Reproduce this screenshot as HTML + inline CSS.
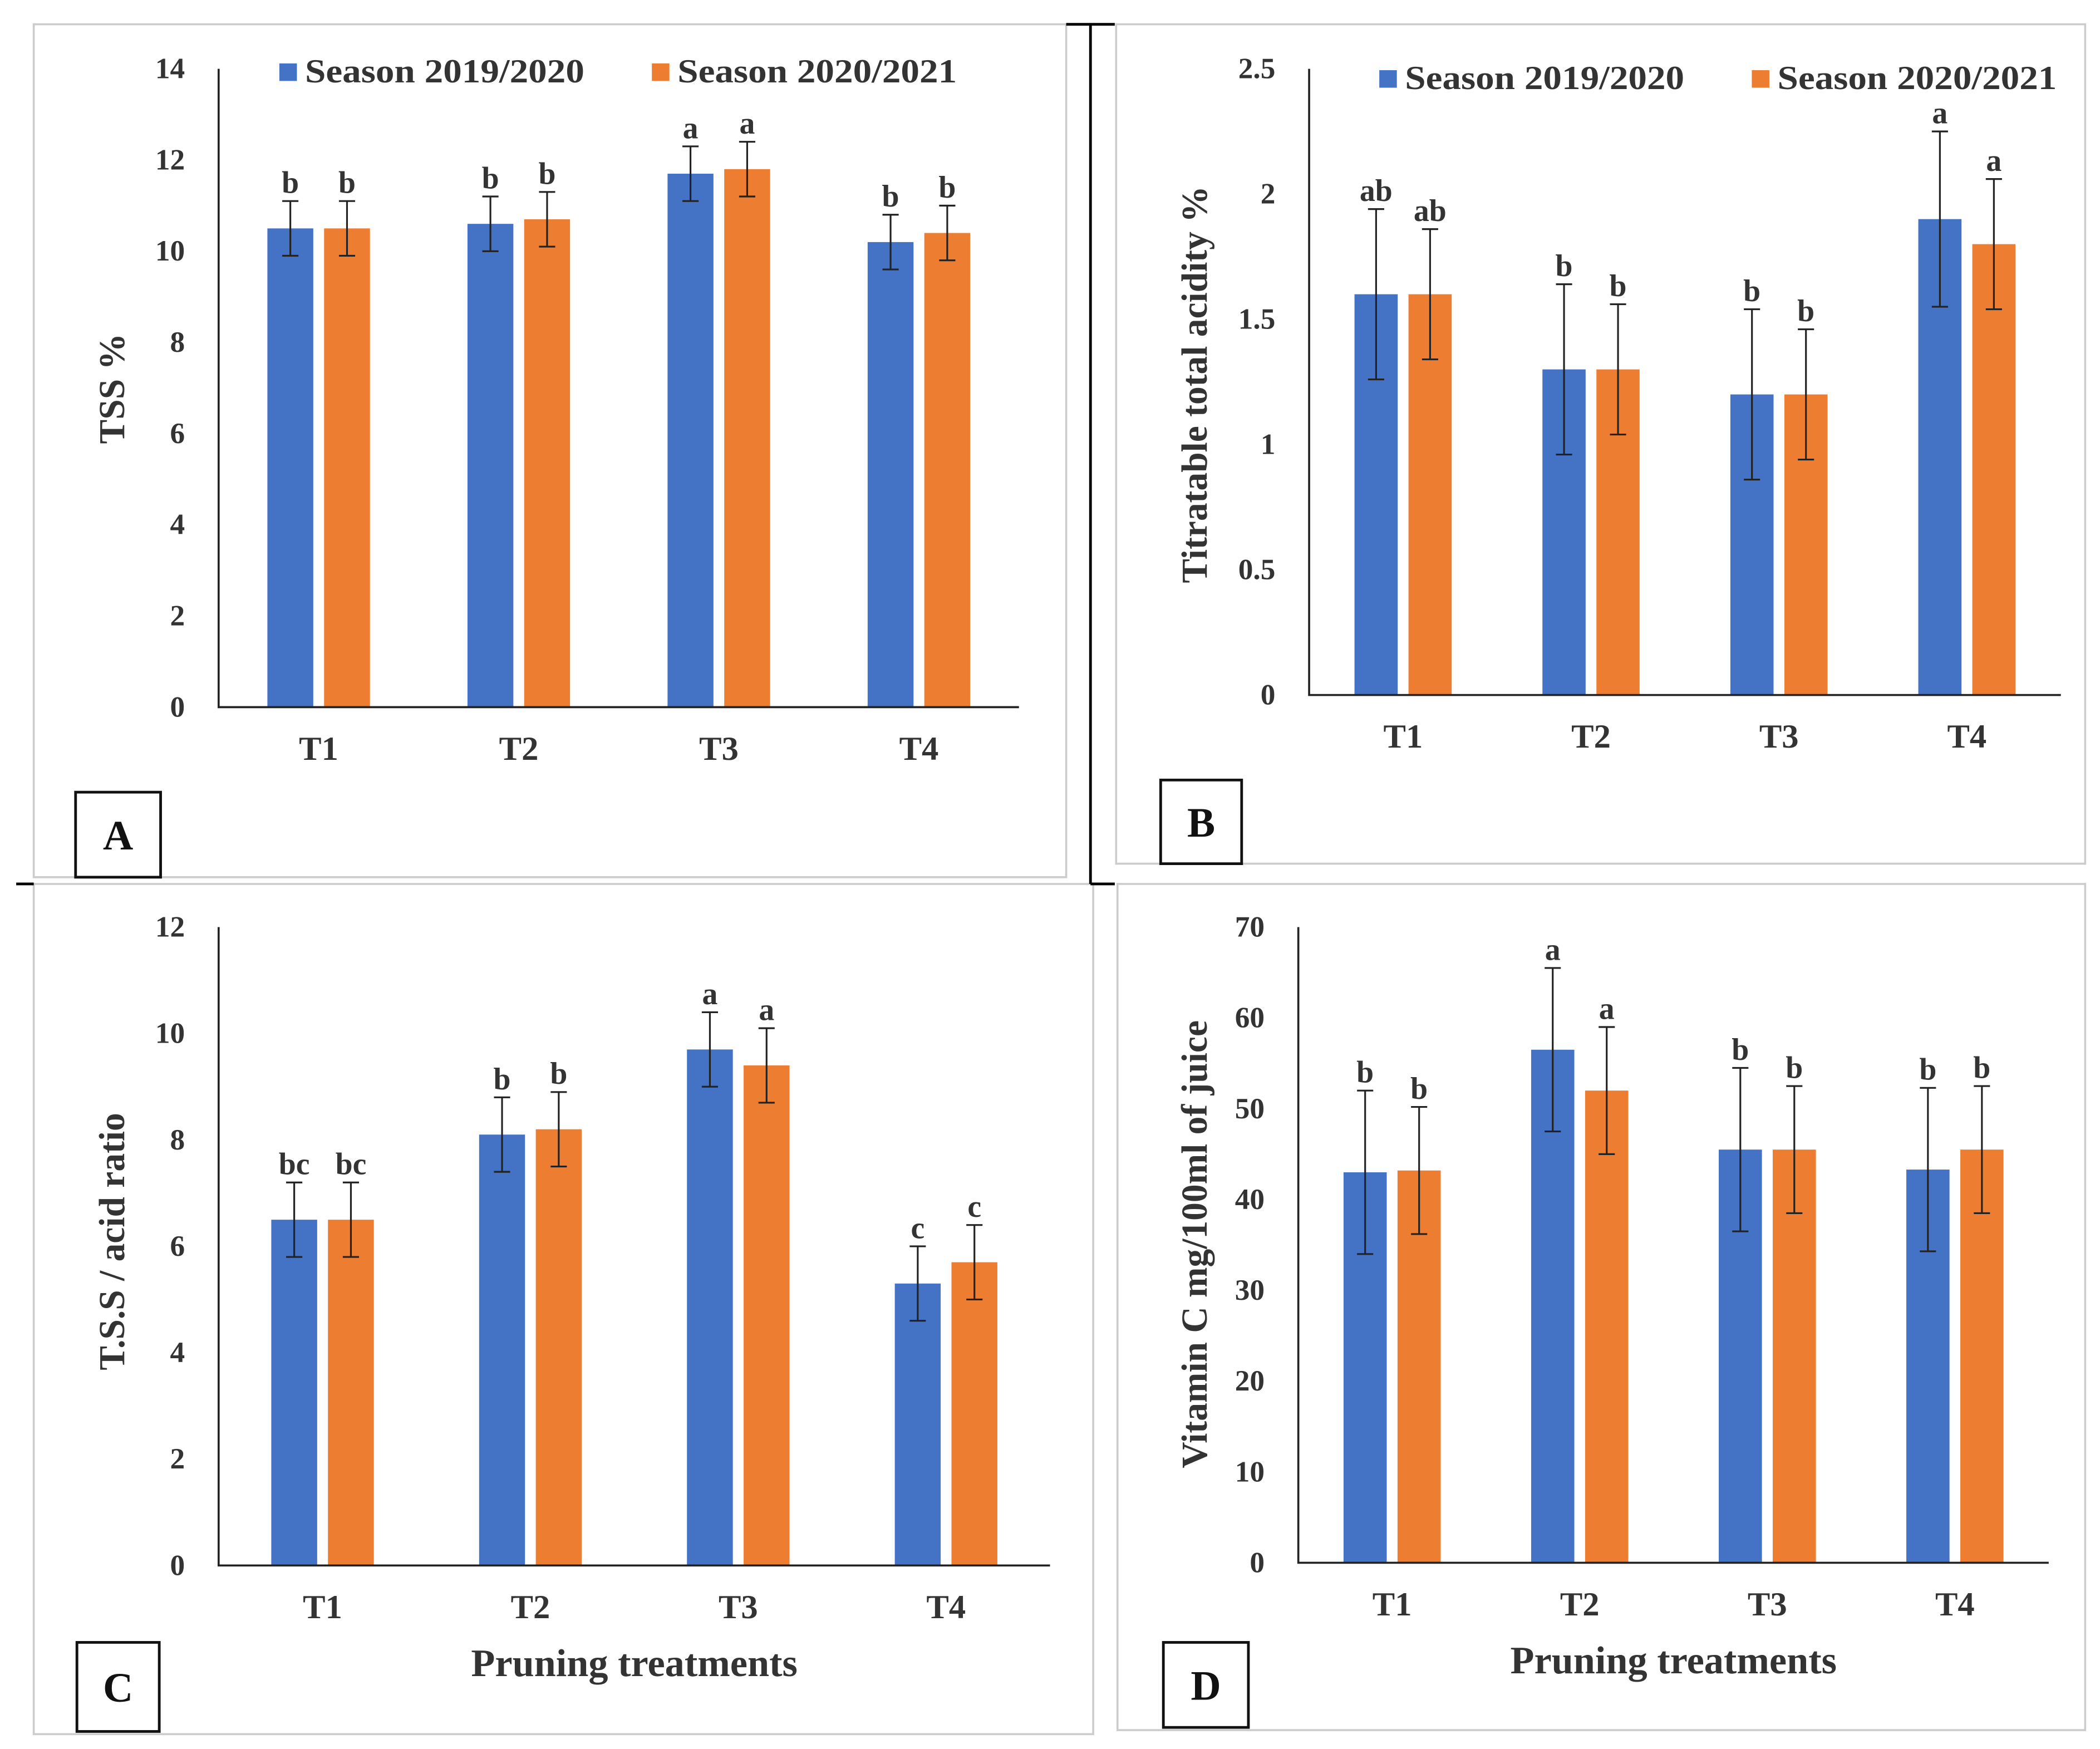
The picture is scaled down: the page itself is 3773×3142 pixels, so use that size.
<!DOCTYPE html>
<html><head><meta charset="utf-8">
<style>
html,body{margin:0;padding:0;background:#fff;}
svg{display:block;}
text{font-family:"Liberation Serif",serif;font-weight:bold;fill:#333;}
</style></head>
<body>
<svg id="fig" width="3773" height="3142" viewBox="0 0 1556 1296" preserveAspectRatio="none" xmlns="http://www.w3.org/2000/svg">
<rect x="0" y="0" width="1556" height="1296" fill="#fff"/>
<rect x="25" y="18" width="765" height="632" fill="none" stroke="#ccc" stroke-width="1.5"/>
<rect x="827" y="18" width="718" height="622" fill="none" stroke="#ccc" stroke-width="1.5"/>
<rect x="25" y="655" width="785" height="630" fill="none" stroke="#ccc" stroke-width="1.5"/>
<rect x="828" y="655" width="717" height="627" fill="none" stroke="#ccc" stroke-width="1.5"/>
<line x1="808" y1="18" x2="808" y2="655" stroke="#000" stroke-width="2"/>
<line x1="790" y1="18" x2="826" y2="18" stroke="#000" stroke-width="2"/>
<line x1="808" y1="655" x2="826" y2="655" stroke="#000" stroke-width="2"/>
<line x1="12" y1="655" x2="25" y2="655" stroke="#000" stroke-width="2"/>
<g id="charts"></g>
</svg>
<script>
const categories = ["T1","T2","T3","T4"];
const aBlue = [10.5,10.6,11.7,10.2], aOrange = [10.5,10.7,11.8,10.4];
const aBlueErr = [0.6,0.6,0.6,0.6], aOrangeErr = [0.6,0.6,0.6,0.6];
const aLetters = [["b","b"],["b","b"],["a","a"],["b","b"]];
const aTicks = [0,2,4,6,8,10,12,14];
const bBlue = [1.6,1.3,1.2,1.9], bOrange = [1.6,1.3,1.2,1.8];
const bBlueErr = [0.34,0.34,0.34,0.35], bOrangeErr = [0.26,0.26,0.26,0.26];
const bLetters = [["ab","ab"],["b","b"],["b","b"],["a","a"]];
const bTicks = [0,0.5,1,1.5,2,2.5];
const cBlue = [6.5,8.1,9.7,5.3], cOrange = [6.5,8.2,9.4,5.7];
const cBlueErr = [0.7,0.7,0.7,0.7], cOrangeErr = [0.7,0.7,0.7,0.7];
const cLetters = [["bc","bc"],["b","b"],["a","a"],["c","c"]];
const cTicks = [0,2,4,6,8,10,12];
const dBlue = [43,56.5,45.5,43.3], dOrange = [43.2,52,45.5,45.5];
const dBlueErr = [9,9,9,9], dOrangeErr = [7,7,7,7];
const dLetters = [["b","b"],["a","a"],["b","b"],["b","b"]];
const dTicks = [0,10,20,30,40,50,60,70];

const NS="http://www.w3.org/2000/svg";
const root=document.getElementById('charts');
function mk(tag,attrs,parent,txt){const e=document.createElementNS(NS,tag);for(const k in attrs)e.setAttribute(k,attrs[k]);if(txt!==undefined)e.textContent=txt;(parent||root).appendChild(e);return e;}

function chart(p){
  const g=mk('g',{});
  
  
  const max=p.ticks[p.ticks.length-1];
  const y=v=>p.y0-(v/max)*(p.y0-p.yTop);
  const step=(p.xEnd-p.x0)/categories.length;
  const cx=i=>p.x0+step*(i+0.5);
  p.ticks.forEach(t=>{
    const tl=mk('text',{x:p.x0-25,y:y(t)+7,'text-anchor':'end','font-size':22},g,String(t));
    
    
  });
  const series=[[p.blue,p.blueErr,'#4472C4',-1],[p.orange,p.orangeErr,'#ED7D31',1]];
  categories.forEach((c,i)=>{
    series.forEach((s,k)=>{
      const v=s[0][i],e=s[1][i],bx=cx(i)+s[3]*p.off-p.bw/2;
      const r=mk('rect',{x:bx,y:y(v),width:p.bw,height:p.y0-y(v),fill:s[2]},g);
      
      
      const mx=bx+p.bw/2;
      const eb=mk('path',{d:`M${mx},${y(v-e)}V${y(v+e)}M${mx-6},${y(v+e)}H${mx+6}M${mx-6},${y(v-e)}H${mx+6}`,stroke:'#222','stroke-width':1.3,fill:'none'},g);
      
      
      const lt=mk('text',{x:mx,y:y(v+e)-6,'text-anchor':'middle','font-size':23},g,p.letters[i][k]);
      
      
    });
    const xl=mk('text',{x:cx(i),y:p.y0+39,'text-anchor':'middle','font-size':25},g,c);
    
    
  });
  const ax=mk('path',{d:`M${p.x0},${p.yTop}V${p.y0}H${p.xEnd}`,stroke:'#222','stroke-width':1.5,fill:'none'},g);
  
  
  const yt=mk('text',{x:0,y:0,'text-anchor':'middle','font-size':27,transform:`translate(${p.ytx},${p.yty}) rotate(-90)`},g,p.ytitle);
  
  
  if(p.xtitle){
    const xt=mk('text',{x:(p.x0+p.xEnd)/2,y:p.y0+82,'text-anchor':'middle','font-size':29},g,p.xtitle);
    
    
  }
  if(p.legend){
    const L=p.legend;
    [[L[0],'#4472C4','Season 2019/2020'],[L[1],'#ED7D31','Season 2020/2021']].forEach(q=>{
      const r=mk('rect',{x:q[0],y:L[2]-14,width:13,height:13,fill:q[1]},g);
      
      
      const t=mk('text',{x:q[0]+19,y:L[2],'font-size':25,textLength:207,lengthAdjust:'spacingAndGlyphs'},g,q[2]);
      
      
    });
  }
  const bx=mk('rect',{x:p.box[0],y:p.box[1],width:p.box[2],height:p.box[3],fill:'#fff',stroke:'#111','stroke-width':2},g);
  
  
  const bl=mk('text',{x:p.box[0]+p.box[2]/2,y:p.box[1]+p.box[3]/2+11,'text-anchor':'middle','font-size':31,style:'fill:#111'},g,p.id.toUpperCase());
  
  
}
chart({id:'a',x0:162,xEnd:755,y0:524,yTop:51,ticks:aTicks,blue:aBlue,orange:aOrange,blueErr:aBlueErr,orangeErr:aOrangeErr,letters:aLetters,bw:34,off:21,ytitle:'TSS %',ytx:92,yty:288,legend:[207,483,61],box:[56,587,63,63]});
chart({id:'b',x0:970,xEnd:1527,y0:515,yTop:51,ticks:bTicks,blue:bBlue,orange:bOrange,blueErr:bBlueErr,orangeErr:bOrangeErr,letters:bLetters,bw:32,off:20,ytitle:'Titratable total acidity %',ytx:894,yty:285,legend:[1022,1298,66],box:[860,578,60,62]});
chart({id:'c',x0:162,xEnd:778,y0:1160,yTop:687,ticks:cTicks,blue:cBlue,orange:cOrange,blueErr:cBlueErr,orangeErr:cOrangeErr,letters:cLetters,bw:34,off:21,ytitle:'T.S.S / acid ratio',ytx:92,yty:920,xtitle:'Pruning treatments',box:[57,1217,61,66]});
chart({id:'d',x0:962,xEnd:1518,y0:1158,yTop:687,ticks:dTicks,blue:dBlue,orange:dOrange,blueErr:dBlueErr,orangeErr:dOrangeErr,letters:dLetters,bw:32,off:20,ytitle:'Vitamin C mg/100ml of juice',ytx:894,yty:922,xtitle:'Pruning treatments',box:[862,1217,63,63]});
</script>
</body></html>
